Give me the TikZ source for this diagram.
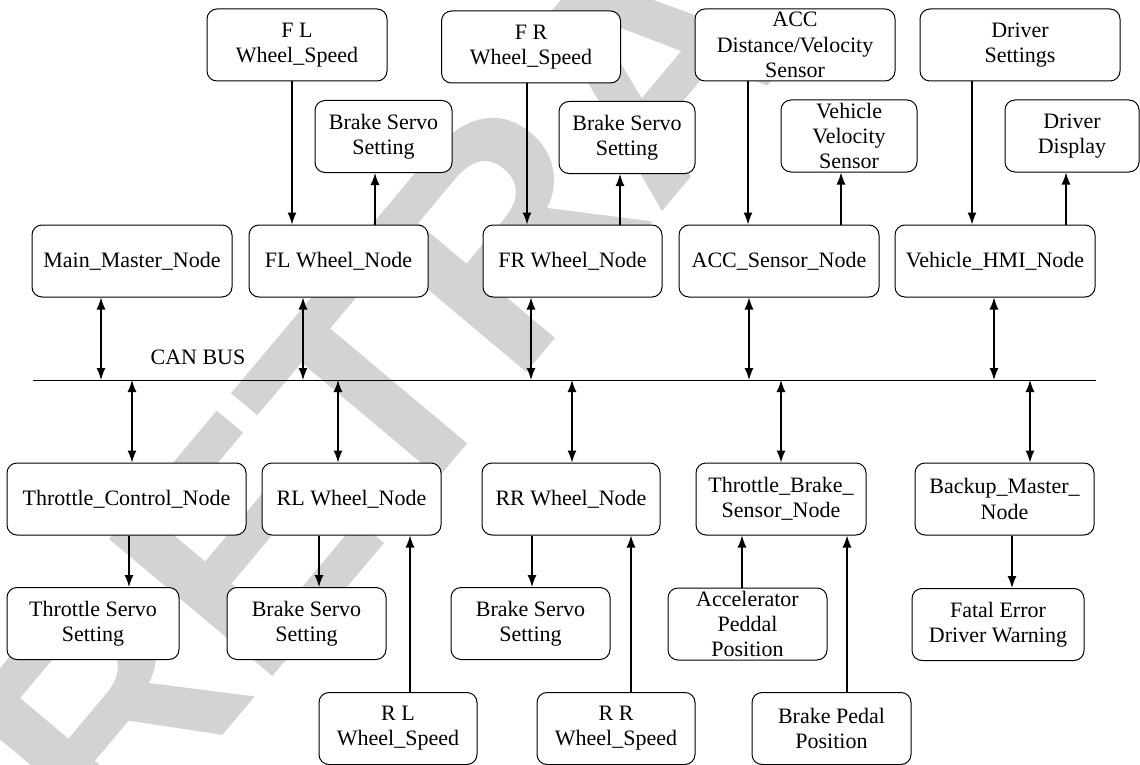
\documentclass[tikz,border=0pt]{standalone}
\usepackage{fontspec}
\setmainfont{Liberation Serif}
\newfontfamily\stampfont{Liberation Sans}
\usetikzlibrary{arrows.meta,
                positioning}
\definecolor{stampgray}{RGB}{211,211,211}
\tikzset{unit/.style =
   {rectangle,
    draw,
    fill=white,
    text centered,
    align=center,
    rounded corners=5pt,
    inner sep=1pt,
    line width=0.5pt,
    minimum height=36pt}}
\tikzset{arrow/.style = {draw, line width=0.65pt, -{Latex[length=6pt,width=4.5pt]}}}
\tikzset{busarrow/.style = {draw, line width=0.65pt,
    {Latex[length=6pt,width=4.5pt]}-{Latex[length=6pt,width=4.5pt]}}}
\tikzset{stamp/.style =
   {text=stampgray,
    font=\stampfont\bfseries\fontsize{155}{155}\selectfont,
    rotate=50,
    inner sep=0pt}}

\begin{document}
\begin{tikzpicture}[x=0.5pt, y=-0.5pt, font=\fontsize{11}{12.6}\selectfont]

    \useasboundingbox (0,0) rectangle (1140,765);

    % watermark
    \begin{scope}
        \clip (0,0) rectangle (1140,765);
        \node [stamp] (stampmark) at (648,63) {RETRACTED};
    \end{scope}

    % top sensors and actuators
    \node [unit, minimum width=90pt]   (flspeed) at (297,45)   {F L\\Wheel\_Speed};
    \node [unit, minimum width=89.5pt] (frspeed) at (531,47)   {F R\\Wheel\_Speed};
    \node [unit, minimum width=100pt, inner sep=0pt] (accsens) at (795,45) {ACC\\Distance/Velocity\\Sensor};
    \node [unit, minimum width=100pt]  (drvset)  at (1020,45)  {Driver\\Settings};

    \node [unit, minimum width=68.5pt] (flbrake) at (383.5,136.5) {Brake Servo\\Setting};
    \node [unit, minimum width=68pt]   (frbrake) at (627,137.5)   {Brake Servo\\Setting};
    \node [unit, minimum width=68pt, inner sep=0pt] (vehvel) at (849,136) {Vehicle\\Velocity\\Sensor};
    \node [unit, minimum width=67pt]   (drvdisp) at (1072,136)    {Driver\\Display};

    % upper bus nodes
    \node [unit, minimum width=100pt]  (mainmaster) at (132,261)   {Main\_Master\_Node};
    \node [unit, minimum width=89.5pt] (flnode)     at (338.5,261) {FL Wheel\_Node};
    \node [unit, minimum width=89.5pt] (frnode)     at (572.5,261) {FR Wheel\_Node};
    \node [unit, minimum width=100pt]  (accnode)    at (779,261)   {ACC\_Sensor\_Node};
    \node [unit, minimum width=100pt]  (hminode)    at (995,261)   {Vehicle\_HMI\_Node};

    % bus
    \coordinate (busL) at (33,380);
    \coordinate (busR) at (1096,380);
    \draw [line width=0.5pt] (busL) -- (busR);
    \node [inner sep=0pt] (buslabel) at (198,357) {CAN BUS};

    % lower bus nodes
    \node [unit, minimum width=119.5pt] (thrnode) at (126.5,499)  {Throttle\_Control\_Node};
    \node [unit, minimum width=89.5pt]  (rlnode)  at (351.5,499)  {RL Wheel\_Node};
    \node [unit, minimum width=89pt]    (rrnode)  at (571,499)    {RR Wheel\_Node};
    \node [unit, minimum width=85pt]    (tbsnode) at (781,499)    {Throttle\_Brake\_\\Sensor\_Node};
    \node [unit, minimum width=89.5pt]  (backup)  at (1004.5,499) {Backup\_Master\_\\Node};

    \node [unit, minimum width=86pt]   (thrservo) at (93,623.5)    {Throttle Servo\\Setting};
    \node [unit, minimum width=79.5pt] (rlbrake)  at (306.5,623.5) {Brake Servo\\Setting};
    \node [unit, minimum width=79.5pt] (rrbrake)  at (530.5,623.5) {Brake Servo\\Setting};
    \node [unit, minimum width=79.5pt, inner sep=0pt] (accpedal) at (747.5,624) {Accelerator\\Peddal\\Position};
    \node [unit, minimum width=86pt]   (fatal)    at (998,624.5)   {Fatal Error\\Driver Warning};

    \node [unit, minimum width=79pt]   (rlspeed)  at (398,728.5)   {R L\\Wheel\_Speed};
    \node [unit, minimum width=79pt]   (rrspeed)  at (616,728.5)   {R R\\Wheel\_Speed};
    \node [unit, minimum width=79.5pt] (brkpedal) at (831.5,728.5) {Brake Pedal\\Position};

    % bus taps
    \foreach \n/\x in {mainmaster/101, flnode/303, frnode/531, accnode/749, hminode/994}
        \draw [busarrow] (\n.south -| \x,0) -- (busL -| \x,0);
    \foreach \n/\x in {thrnode/132, rlnode/338, rrnode/572, tbsnode/781, backup/1030}
        \draw [busarrow] (busL -| \x,0) -- (\n.north -| \x,0);

    % signals
    \foreach \a/\b/\x in {flspeed/flnode/292, frspeed/frnode/527, accsens/accnode/748,
                          drvset/hminode/972, thrnode/thrservo/129, rlnode/rlbrake/319,
                          rrnode/rrbrake/532, backup/fatal/1012}
        \draw [arrow] (\a.south -| \x,0) -- (\b.north -| \x,0);
    \foreach \a/\b/\x in {flnode/flbrake/375, frnode/frbrake/620, accnode/vehvel/841,
                          hminode/drvdisp/1066, rlspeed/rlnode/410, rrspeed/rrnode/631,
                          accpedal/tbsnode/742, brkpedal/tbsnode/847}
        \draw [arrow] (\a.north -| \x,0) -- (\b.south -| \x,0);

\end{tikzpicture}
\end{document}
